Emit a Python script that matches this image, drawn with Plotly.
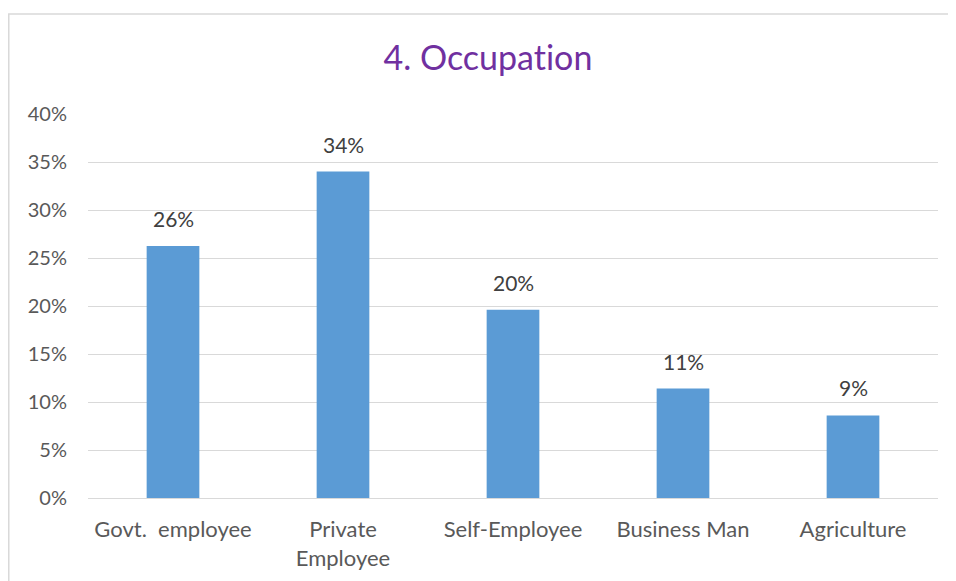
import plotly.graph_objects as go

categories = ["Govt.\u00a0 employee", "Private<br>Employee", "Self-Employee", "Business Man", "Agriculture"]
values = [0.2625, 0.34, 0.196, 0.114, 0.086]
labels = ["26%", "34%", "20%", "11%", "9%"]
tick_vals = [0, 0.05, 0.10, 0.15, 0.20, 0.25, 0.30, 0.35, 0.40]
tick_text = ["0%", "5%", "10%", "15%", "20%", "25%", "30%", "35%", "40%"]
title_text = "4. Occupat\u200cion"

FONT = "Lato, 'Open Sans', sans-serif"

fig = go.Figure(
    go.Bar(
        x=categories,
        y=values,
        marker=dict(color="#5B9BD5", line=dict(width=0)),
        hoverinfo="x+y",
    )
)

annotations = [
    dict(
        x=c, y=v, text=t, xref="x", yref="y",
        showarrow=False, yanchor="bottom", yshift=13,
        font=dict(family=FONT, size=21, color="#404040"),
    )
    for c, v, t in zip(categories, values, labels)
]

fig.update_layout(
    width=956,
    height=581,
    margin=dict(l=80, r=26, t=106, b=91),
    paper_bgcolor="white",
    plot_bgcolor="white",
    bargap=0.69,
    showlegend=False,
    annotations=annotations,
    title=dict(
        text=title_text,
        font=dict(family=FONT, size=34, color="#7030A0"),
        x=0.502,
        xanchor="center",
        y=0.914,
        yanchor="middle",
    ),
    xaxis=dict(
        showgrid=False,
        showline=True,
        linecolor="#d9d9d9",
        linewidth=1,
        ticks="",
        tickfont=dict(family=FONT, size=22, color="#595959"),
        ticklabelstandoff=12,
    ),
    yaxis=dict(
        range=[0, 0.4],
        tickvals=tick_vals,
        ticktext=tick_text,
        showgrid=True,
        gridcolor="#d9d9d9",
        gridwidth=1,
        zeroline=False,
        showline=False,
        ticks="",
        tickfont=dict(family=FONT, size=20, color="#595959"),
        ticklabelstandoff=20,
    ),
    shapes=[
        dict(
            type="rect",
            xref="paper",
            yref="paper",
            x0=-0.0932,
            x1=1.05,
            y0=-0.3,
            y1=1.2604,
            line=dict(color="#d9d9d9", width=1.5),
            fillcolor="rgba(0,0,0,0)",
            layer="below",
        )
    ],
)

fig.write_html("out.html")
